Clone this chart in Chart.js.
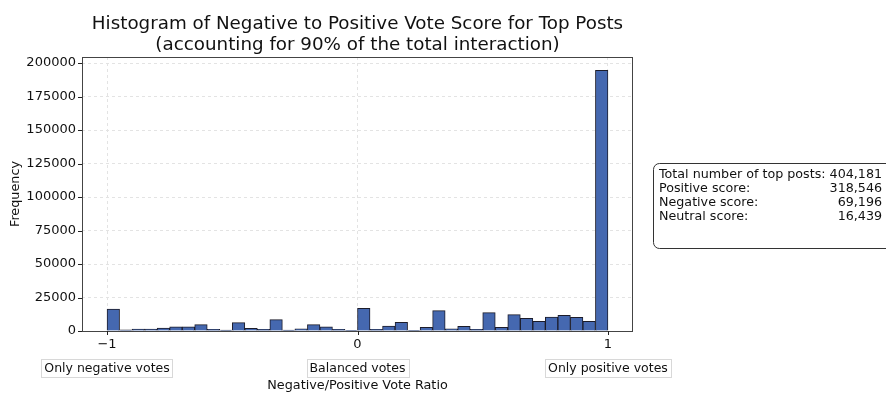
<!DOCTYPE html>
<html>
<head>
<meta charset="utf-8">
<script src="https://cdn.jsdelivr.net/npm/chart.js@4/dist/chart.umd.min.js"></script>
<style>
  html, body { margin: 0; padding: 0; background: #fff; }
  canvas { display: block; }
</style>
</head>
<body>
<canvas id="c" width="886" height="394"></canvas>
<script>
// Histogram bins: 40 bins of width 0.05 spanning the ratio range [-1, 1]
const binStart = -1;
const binWidth = 0.05;
const counts = [
  16400, 800, 1500, 1500, 2200, 3200, 3200, 4700, 1200, 600,
  6200, 2000, 1200, 8500, 600, 1700, 4700, 3200, 1200, 300,
  16900, 1200, 3700, 6500, 500, 2700, 15200, 1700, 3500, 1200,
  13700, 2700, 12200, 9500, 7200, 10400, 11700, 10200, 7200, 194500
];
const xTicks = [-1, 0, 1];
const yTicks = [0, 25000, 50000, 75000, 100000, 125000, 150000, 175000, 200000];
const regionLabels = ['Only negative votes', 'Balanced votes', 'Only positive votes'];
const titleLines = [
  'Histogram of Negative to Positive Vote Score for Top Posts',
  '(accounting for 90% of the total interaction)'
];
const xLabel = 'Negative/Positive Vote Ratio';
const yLabel = 'Frequency';
const statNames = ['Total number of top posts:', 'Positive score:', 'Negative score:', 'Neutral score:'];
const statValues = [404181, 318546, 69196, 16439];

const FONT = '"DejaVu Sans", sans-serif';
const points = counts.map((c, i) => ({ x: binStart + binWidth * (i + 0.5), y: c }));

// Frame, tick marks, titles, region labels and the summary box
const decorations = {
  id: 'decorations',
  afterDraw(chart) {
    const ctx = chart.ctx;
    const a = chart.chartArea;
    const xs = chart.scales.x, ys = chart.scales.y;
    ctx.save();

    // axes frame
    ctx.strokeStyle = '#444';
    ctx.lineWidth = 1;
    ctx.strokeRect(Math.round(a.left) + 0.5, Math.round(a.top) + 0.5,
                   Math.round(a.right - a.left) - 1, Math.round(a.bottom - a.top));

    // tick marks
    ctx.strokeStyle = '#222';
    ctx.beginPath();
    xTicks.forEach(v => {
      const px = Math.round(xs.getPixelForValue(v)) + 0.5;
      ctx.moveTo(px, a.bottom); ctx.lineTo(px, a.bottom + 4);
    });
    yTicks.forEach(v => {
      const py = Math.round(ys.getPixelForValue(v)) + 0.5;
      ctx.moveTo(a.left - 4, py); ctx.lineTo(a.left, py);
    });
    ctx.stroke();

    // title
    ctx.fillStyle = '#111';
    ctx.font = '18.3px ' + FONT;
    ctx.textAlign = 'center';
    ctx.textBaseline = 'middle';
    const cx = (a.left + a.right) / 2;
    ctx.fillText(titleLines[0], cx, 24);
    ctx.fillText(titleLines[1], cx, 45);

    // axis titles
    ctx.font = '12.8px ' + FONT;
    ctx.fillText(xLabel, cx, 386);
    ctx.save();
    ctx.translate(16, (a.top + a.bottom) / 2);
    ctx.rotate(-Math.PI / 2);
    ctx.fillText(yLabel, 0, 0);
    ctx.restore();

    // region labels under the axis
    ctx.font = '12.5px ' + FONT;
    regionLabels.forEach((t, i) => {
      const px = xs.getPixelForValue(xTicks[i]);
      const w = ctx.measureText(t).width + 6;
      const h = 18;
      ctx.fillStyle = '#fff';
      ctx.fillRect(px - w / 2, 359, w, h);
      ctx.strokeStyle = '#d8d8d8';
      ctx.strokeRect(Math.round(px - w / 2) + 0.5, 359.5, Math.round(w), h);
      ctx.fillStyle = '#111';
      ctx.fillText(t, px, 368.5);
    });

    // summary box
    const bx = 653.5, by = 163.5, bw = 245, bh = 85, r = 6;
    ctx.beginPath();
    ctx.moveTo(bx + r, by);
    ctx.lineTo(bx + bw - r, by);
    ctx.arcTo(bx + bw, by, bx + bw, by + r, r);
    ctx.lineTo(bx + bw, by + bh - r);
    ctx.arcTo(bx + bw, by + bh, bx + bw - r, by + bh, r);
    ctx.lineTo(bx + r, by + bh);
    ctx.arcTo(bx, by + bh, bx, by + bh - r, r);
    ctx.lineTo(bx, by + r);
    ctx.arcTo(bx, by, bx + r, by, r);
    ctx.closePath();
    ctx.fillStyle = '#fff';
    ctx.fill();
    ctx.strokeStyle = '#333';
    ctx.stroke();

    // the first line sets the width; the other values align to its right end
    ctx.fillStyle = '#111';
    ctx.font = '12.7px ' + FONT;
    const textLeft = 659;
    const firstLine = statNames[0] + ' ' + statValues[0].toLocaleString('en-US');
    const rightEdge = textLeft + ctx.measureText(firstLine).width;
    statNames.forEach((n, i) => {
      const y = 175 + i * 14;
      ctx.textAlign = 'left';
      ctx.fillText(n, textLeft, y);
      ctx.textAlign = 'right';
      ctx.fillText(statValues[i].toLocaleString('en-US'), rightEdge, y);
    });

    ctx.restore();
  }
};

new Chart(document.getElementById('c'), {
  type: 'bar',
  data: {
    datasets: [{
      data: points,
      backgroundColor: '#4568b0',
      borderColor: '#1c1c2a',
      borderWidth: 1,
      barPercentage: 1,
      categoryPercentage: 1
    }]
  },
  options: {
    responsive: false,
    animation: false,
    devicePixelRatio: 1,
    layout: { padding: { left: 0, top: 57, right: 253, bottom: 0 } },
    plugins: { legend: { display: false }, tooltip: { enabled: false } },
    scales: {
      x: {
        type: 'linear',
        min: -1.1,
        max: 1.1,
        offset: false,
        afterFit(scale) { scale.height = 63; },
        afterBuildTicks(scale) { scale.ticks = xTicks.map(v => ({ value: v })); },
        grid: { color: '#e3e3e3', lineWidth: 1, drawTicks: false, offset: false },
        border: { display: false, dash: [3, 3] },
        ticks: {
          padding: 6,
          color: '#111',
          font: { family: FONT, size: 13 },
          maxRotation: 0,
          callback: v => (v < 0 ? '\u2212' + Math.abs(v) : String(v))
        }
      },
      y: {
        min: 0,
        max: 204500,
        afterFit(scale) { scale.width = 82; },
        afterBuildTicks(scale) { scale.ticks = yTicks.map(v => ({ value: v })); },
        grid: { color: '#e3e3e3', lineWidth: 1, drawTicks: false },
        border: { display: false, dash: [3, 3] },
        ticks: {
          padding: 6,
          color: '#111',
          font: { family: FONT, size: 13 },
          callback: v => String(v)
        }
      }
    }
  },
  plugins: [decorations]
});
</script>
</body>
</html>
